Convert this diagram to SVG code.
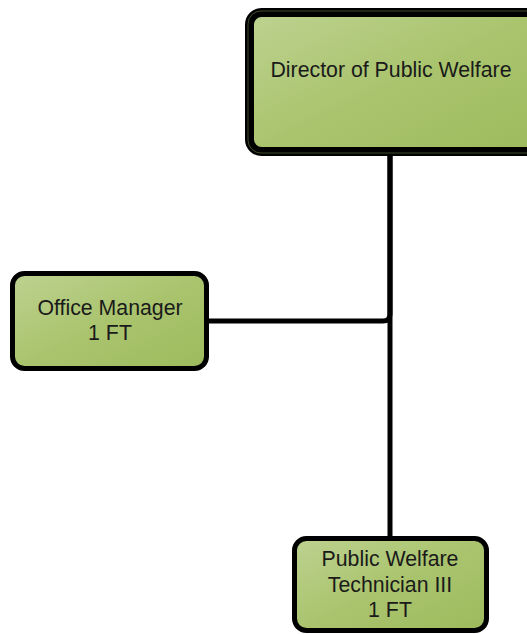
<svg xmlns="http://www.w3.org/2000/svg" width="527" height="634" viewBox="0 0 527 634">
<defs>
<linearGradient id="g" x1="0" y1="0" x2="1" y2="1">
<stop offset="0" stop-color="#bdd290"/>
<stop offset="0.5" stop-color="#aac46e"/>
<stop offset="1" stop-color="#9dbb5d"/>
</linearGradient>
<style>
.box{fill:url(#g);stroke:#000;stroke-width:5}
.t{font-family:"Liberation Sans",Arial,sans-serif;font-size:21.3px;fill:#1a1a1a;text-anchor:middle}
.c{fill:none;stroke:#000;stroke-width:5}
</style>
</defs>
<g id="connectors">
<path class="c" d="M390,152 V538"/>
<path class="c" d="M207,321 H383 Q390,321 390,314 V152"/>
</g>
<g id="director">
<rect x="249.5" y="12.5" width="290" height="139" rx="12" fill="url(#g)" stroke="#000" stroke-width="9"/>
<rect x="248" y="11" width="293" height="142" rx="13" fill="none" stroke="#8aa35a" stroke-width="0.8" opacity="0.6"/>
<text class="t" x="391" y="77">Director of Public Welfare</text>
</g>
<g id="office">
<rect class="box" x="12.5" y="273.5" width="194" height="95" rx="12"/>
<text class="t" x="110" y="315">Office Manager</text>
<text class="t" x="110" y="340">1 FT</text>
</g>
<g id="technician">
<rect class="box" x="294.5" y="538.5" width="192" height="92" rx="12"/>
<text class="t" x="390" y="566">Public Welfare</text>
<text class="t" x="390" y="592">Technician III</text>
<text class="t" x="390" y="617">1 FT</text>
</g>
</svg>
